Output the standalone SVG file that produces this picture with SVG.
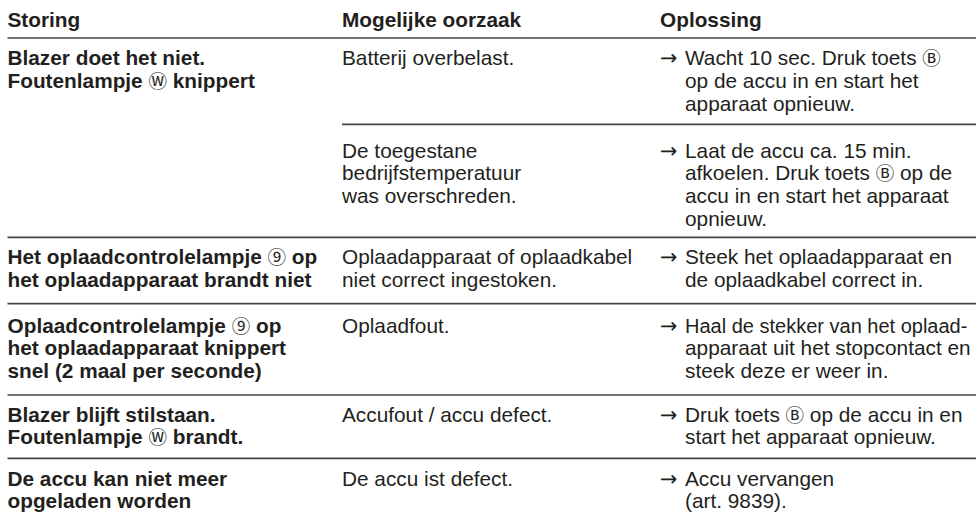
<svg xmlns="http://www.w3.org/2000/svg" width="976" height="519" viewBox="0 0 976 519">
<style>
text{font-family:"Liberation Sans","DejaVu Sans","Noto Sans CJK SC",sans-serif;font-size:20.8px;fill:#231f20}
.b{font-weight:bold}
.c{font-family:"Noto Sans CJK SC","DejaVu Sans",sans-serif;font-weight:normal;font-size:18.5px}
.a{font-family:"DejaVu Sans","Liberation Sans",sans-serif;font-size:20.8px}
.rule{stroke:#454545;stroke-width:1.7;fill:none}
</style>
<rect width="976" height="519" fill="#ffffff"/>
<g id="rules">
<line class="rule" x1="7.5" y1="38" x2="976" y2="38"/>
<line class="rule" x1="342" y1="124.3" x2="976" y2="124.3"/>
<line class="rule" x1="7.5" y1="237.3" x2="976" y2="237.3"/>
<line class="rule" x1="7.5" y1="303.7" x2="976" y2="303.7"/>
<line class="rule" x1="7.5" y1="395" x2="976" y2="395"/>
<line class="rule" x1="7.5" y1="458.3" x2="976" y2="458.3"/>
</g>
<g id="header">
<text class="b" x="7.5" y="27">Storing</text>
<text class="b" x="342" y="27">Mogelijke oorzaak</text>
<text class="b" x="660" y="27">Oplossing</text>
</g>
<g id="row1">
<text class="b" x="7.5" y="65.3">Blazer doet het niet.</text>
<text class="b" x="7.5" y="88">Foutenlampje <tspan class="c">Ⓦ</tspan> knippert</text>
<text x="342" y="65.3">Batterij overbelast.</text>
<text class="a" x="660" y="65.3">→</text>
<text x="685" y="65.3">Wacht 10 sec. Druk toets <tspan class="c">Ⓑ</tspan></text>
<text x="685" y="88">op de accu in en start het</text>
<text x="685" y="110.7">apparaat opnieuw.</text>
</g>
<g id="row2">
<text x="342" y="157.5">De toegestane</text>
<text x="342" y="180.2">bedrijfstemperatuur</text>
<text x="342" y="202.9">was overschreden.</text>
<text class="a" x="660" y="157.5">→</text>
<text x="685" y="157.5">Laat de accu ca. 15 min.</text>
<text x="685" y="180.2">afkoelen. Druk toets <tspan class="c">Ⓑ</tspan> op de</text>
<text x="685" y="202.9">accu in en start het apparaat</text>
<text x="685" y="225.6">opnieuw.</text>
</g>
<g id="row3">
<text class="b" x="7.5" y="264.3">Het oplaadcontrolelampje <tspan class="c">⑨</tspan> op</text>
<text class="b" x="7.5" y="287">het oplaadapparaat brandt niet</text>
<text x="342" y="264.3">Oplaadapparaat of oplaadkabel</text>
<text x="342" y="287">niet correct ingestoken.</text>
<text class="a" x="660" y="264.3">→</text>
<text x="685" y="264.3">Steek het oplaadapparaat en</text>
<text x="685" y="287">de oplaadkabel correct in.</text>
</g>
<g id="row4">
<text class="b" x="7.5" y="332.5">Oplaadcontrolelampje <tspan class="c">⑨</tspan> op</text>
<text class="b" x="7.5" y="355">het oplaadapparaat knippert</text>
<text class="b" x="7.5" y="377.5">snel (2 maal per seconde)</text>
<text x="342" y="332.5">Oplaadfout.</text>
<text class="a" x="660" y="332.5">→</text>
<text x="685" y="332.5" style="font-size:20px">Haal de stekker van het oplaad-</text>
<text x="685" y="355">apparaat uit het stopcontact en</text>
<text x="685" y="377.5">steek deze er weer in.</text>
</g>
<g id="row5">
<text class="b" x="7.5" y="421.7">Blazer blijft stilstaan.</text>
<text class="b" x="7.5" y="444.4">Foutenlampje <tspan class="c">Ⓦ</tspan> brandt.</text>
<text x="342" y="421.7">Accufout / accu defect.</text>
<text class="a" x="660" y="421.7">→</text>
<text x="685" y="421.7">Druk toets <tspan class="c">Ⓑ</tspan> op de accu in en</text>
<text x="685" y="444.4">start het apparaat opnieuw.</text>
</g>
<g id="row6">
<text class="b" x="7.5" y="485.7">De accu kan niet meer</text>
<text class="b" x="7.5" y="508.4">opgeladen worden</text>
<text x="342" y="485.7">De accu ist defect.</text>
<text class="a" x="660" y="485.7">→</text>
<text x="685" y="485.7">Accu vervangen</text>
<text x="685" y="508.4">(art. 9839).</text>
</g>
</svg>
